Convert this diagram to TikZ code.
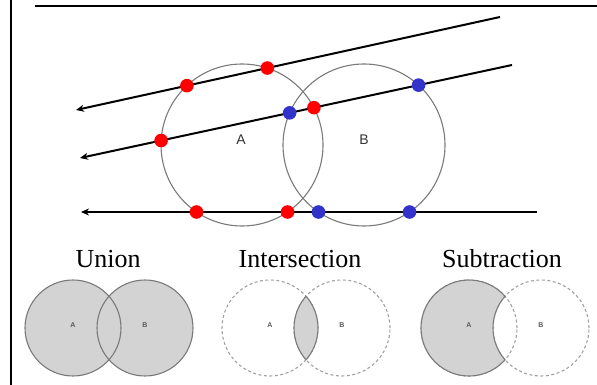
\documentclass[tikz,border=0pt]{standalone}
\usepackage{fontspec}
\setmainfont{Liberation Serif}
\setsansfont{Liberation Sans}
\usetikzlibrary{positioning,arrows.meta,intersections}
\definecolor{ringgray}{HTML}{7A7A7A}
\definecolor{ghostgray}{HTML}{A0A0A0}
\definecolor{dotred}{HTML}{FF0000}
\definecolor{dotblue}{HTML}{3333CC}
\definecolor{setfill}{HTML}{D3D3D3}
\tikzset{
  ray/.style={line width=2pt,-{Stealth[length=8pt,width=7pt]}},
  ring/.style={draw=ringgray,line width=1.1pt},
  ghost/.style={draw=ghostgray,line width=1.1pt,dash pattern=on 3pt off 2.5pt},
  hitA/.style={fill=dotred},
  hitB/.style={fill=dotblue},
  setname/.style={font=\sffamily\fontsize{14}{14}\selectfont,text=black!80},
  tinyname/.style={font=\sffamily\bfseries\fontsize{7}{7}\selectfont,text=black!65},
  optitle/.style={font=\fontsize{26}{28}\selectfont,anchor=base}
}
\begin{document}
\begin{tikzpicture}[x=1pt,y=1pt]
\useasboundingbox (0,0) rectangle (597,385);
% frame
\draw[line width=2.4pt] (11,0) -- (11,385);
\draw[line width=2pt] (35,379) -- (597,379);
% the two big sets
\coordinate (cA) at (242,240);
\coordinate (cB) at (364,240);
\draw[ring,name path=ringA] (cA) circle (81);
\draw[ring,name path=ringB] (cB) circle (81);
\node[setname] (labA) at (241,245) {A};
\node[setname] (labB) at (364,245) {B};
% rays
\coordinate (r1s) at (500,368); \coordinate (r1e) at (76,275);
\coordinate (r2s) at (512,320); \coordinate (r2e) at (80,227);
\coordinate (r3s) at (537,173); \coordinate (r3e) at (81,173);
\draw[ray,name path=ray1] (r1s) -- (r1e);
\draw[ray,name path=ray2] (r2s) -- (r2e);
\draw[ray,name path=ray3] (r3s) -- (r3e);
% hit points
\path[name intersections={of=ringA and ray1,name=a1}];
\path[name intersections={of=ringA and ray2,name=a2}];
\path[name intersections={of=ringA and ray3,name=a3}];
\path[name intersections={of=ringB and ray2,name=b2}];
\path[name intersections={of=ringB and ray3,name=b3}];
\foreach \p in {a1-1,a1-2,a2-1,a2-2,a3-1,a3-2}
  \fill[hitA] (\p) circle (6.8);
\foreach \p in {b2-1,b2-2,b3-1,b3-2}
  \fill[hitB] (\p) circle (6.8);
% titles
\node[optitle] (tUnion) at (108,117) {Union};
\node[optitle] (tInter) at (300,117) {Intersection};
\node[optitle] (tSub) at (502,117) {Subtraction};
% union
\begin{scope}[shift={(73,57)}]
  \fill[setfill] (0,0) circle (48) (72,0) circle (48);
  \draw[ring] (0,0) circle (48) (72,0) circle (48);
  \node[tinyname] (uA) at (0,3) {A};
  \node[tinyname] (uB) at (72,3) {B};
\end{scope}
% intersection
\begin{scope}[shift={(270,57)}]
  \draw[ghost] (0,0) circle (48) (72,0) circle (48);
  \begin{scope}
    \clip (0,0) circle (48);
    \fill[setfill] (72,0) circle (48);
    \draw[ring] (72,0) circle (48);
  \end{scope}
  \begin{scope}
    \clip (72,0) circle (48);
    \draw[ring] (0,0) circle (48);
  \end{scope}
  \node[tinyname] (iA) at (0,3) {A};
  \node[tinyname] (iB) at (72,3) {B};
\end{scope}
% subtraction
\begin{scope}[shift={(469,57)}]
  \draw[ghost] (0,0) circle (48) (72,0) circle (48);
  \path[fill=setfill,ring]
    (41.4:48) arc[start angle=41.4,end angle=318.6,radius=48]
    arc[start angle=221.4,end angle=138.6,radius=48] -- cycle;
  \node[tinyname] (sA) at (0,3) {A};
  \node[tinyname] (sB) at (72,3) {B};
\end{scope}
\end{tikzpicture}
\end{document}
